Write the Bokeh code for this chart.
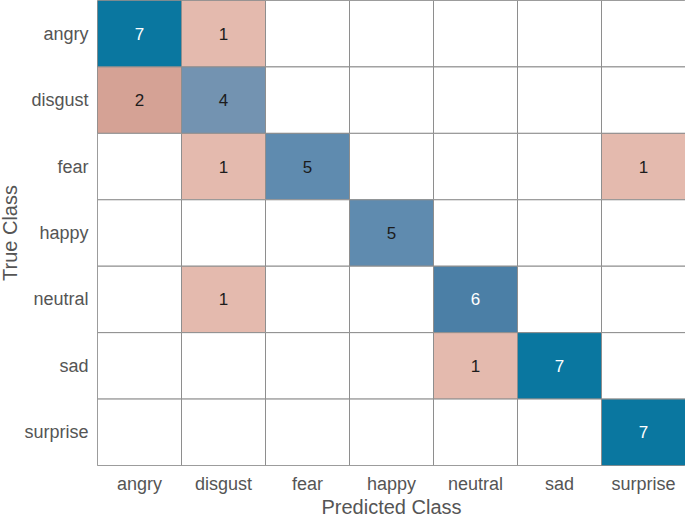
from bokeh.plotting import figure
from bokeh.models import ColumnDataSource
from bokeh.core.properties import value
from bokeh.embed import file_html
from bokeh.resources import INLINE

classes = ["angry", "disgust", "fear", "happy", "neutral", "sad", "surprise"]
# confusion matrix: rows = true class, cols = predicted class
counts = [
    [7, 1, 0, 0, 0, 0, 0],
    [2, 4, 0, 0, 0, 0, 0],
    [0, 1, 5, 0, 0, 0, 1],
    [0, 0, 0, 5, 0, 0, 0],
    [0, 1, 0, 0, 6, 0, 0],
    [0, 0, 0, 0, 1, 7, 0],
    [0, 0, 0, 0, 0, 0, 7],
]

diag_colors = {7: "#0a77a0", 6: "#4b7fa6", 5: "#5f8baf", 4: "#7393b1"}
off_colors = {1: "#e4baae", 2: "#d5a295"}

xs, ys, fills, labels, tcolors = [], [], [], [], []
for i, t in enumerate(classes):
    for j, pc in enumerate(classes):
        v = counts[i][j]
        xs.append(pc)
        ys.append(t)
        if v == 0:
            fills.append("white")
            labels.append("")
        elif i == j:
            fills.append(diag_colors.get(v, "#0a77a0"))
            labels.append(str(v))
        else:
            fills.append(off_colors.get(v, "#d5a295"))
            labels.append(str(v))
        tcolors.append("#ffffff" if (i == j and v >= 6) else "#1c1c1c")

src = ColumnDataSource(dict(x=xs, y=ys, fill=fills, label=labels, tc=tcolors))

p = figure(x_range=classes, y_range=list(reversed(classes)),
           frame_width=588, frame_height=465, output_backend="svg", toolbar_location=None,
           min_border_left=101, min_border_right=0, min_border_top=0, min_border_bottom=51,
           x_axis_label="Predicted Class", y_axis_label="True Class")
p.styles = {"margin-left": "-4px", "margin-top": "0px"}

p.rect(x="x", y="y", width=1, height=1, source=src, fill_color="fill",
       line_color="#8e8e8e", line_width=1)
p.text(x="x", y="y", text="label", source=src, text_align="center",
       text_baseline="middle", text_color="tc", text_font_size="17px",
       text_font=value("Liberation Sans"))

p.grid.visible = False
p.outline_line_color = "#8e8e8e"
for ax in (p.xaxis[0], p.yaxis[0]):
    ax.axis_line_color = None
    ax.major_tick_line_color = None
    ax.minor_tick_line_color = None
    ax.major_tick_out = 0
    ax.major_tick_in = 0
    ax.minor_tick_out = 0
    ax.major_label_text_font = "Liberation Sans"
    ax.major_label_text_font_size = "18px"
    ax.major_label_text_color = "#555555"
    ax.axis_label_text_font = "Liberation Sans"
    ax.axis_label_text_font_size = "20px"
    ax.axis_label_text_font_style = "normal"
    ax.axis_label_text_color = "#555555"
p.xaxis.major_label_standoff = 8
p.xaxis.axis_label_standoff = -1
p.yaxis.major_label_standoff = 9
p.yaxis.axis_label_standoff = 0

open("out.html", "w").write(file_html(p, INLINE))
